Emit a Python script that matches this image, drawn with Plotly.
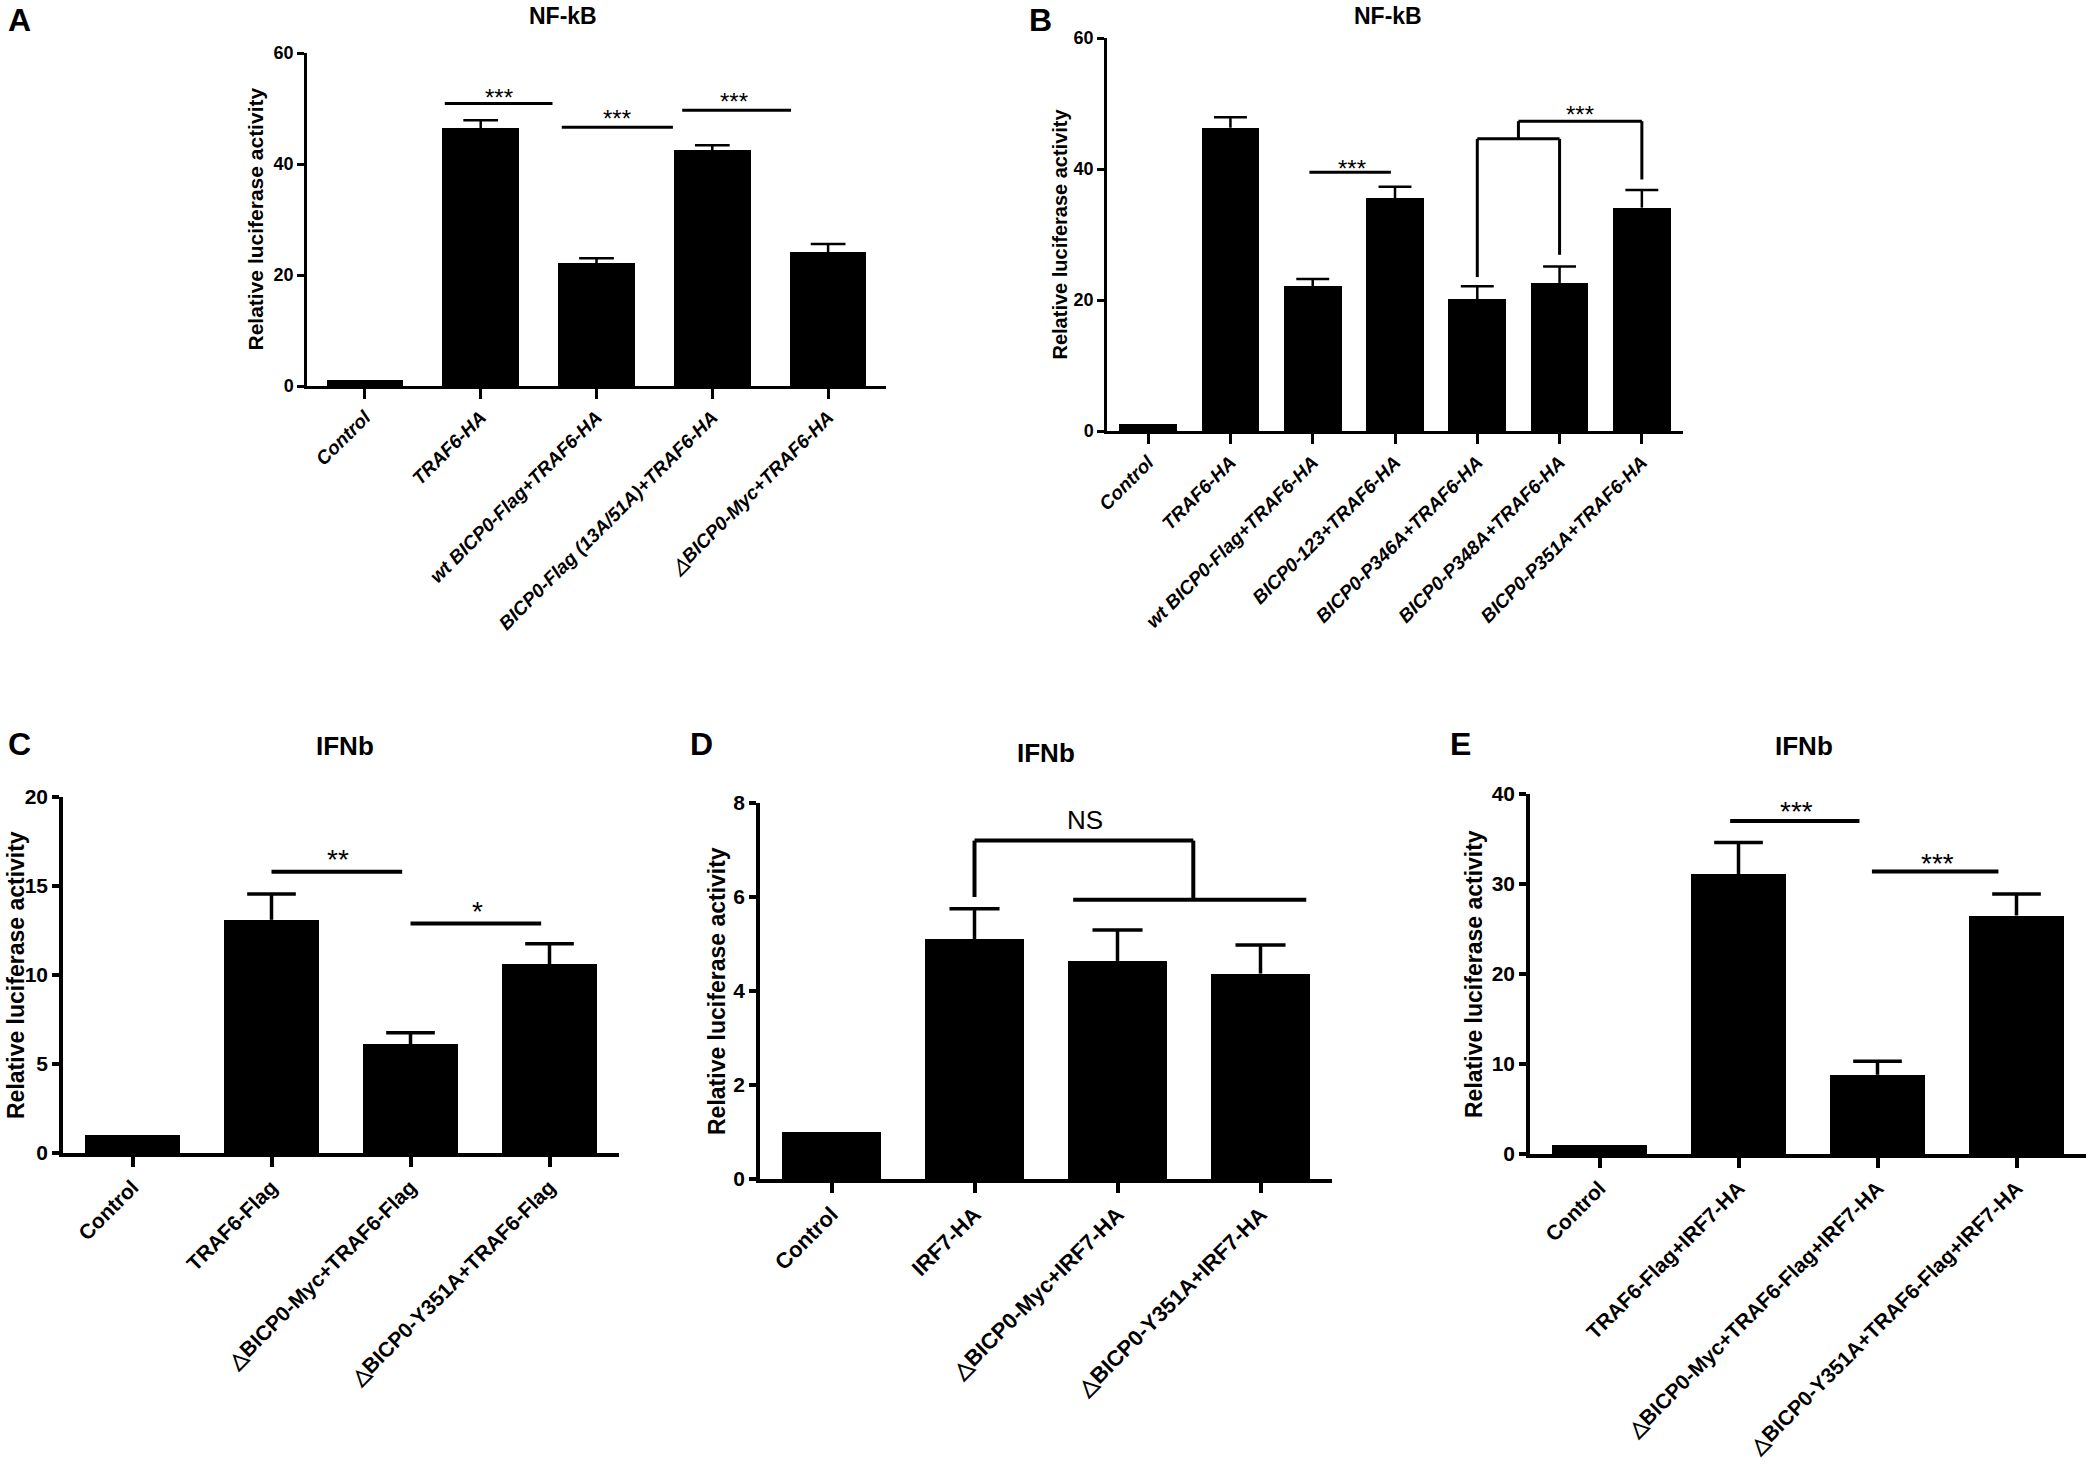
import plotly.graph_objects as go

W, H = 2095, 1468

# ---------------- data ----------------
cats_a = ["Control", "TRAF6-HA", "wt BICP0-Flag+TRAF6-HA",
          "BICP0-Flag (13A/51A)+TRAF6-HA", "△BICP0-Myc+TRAF6-HA"]
vals_a = [1.0, 46.4, 22.1, 42.5, 24.1]
err_a = [0.0, 1.5, 0.9, 0.9, 1.5]

cats_b = ["Control", "TRAF6-HA", "wt BICP0-Flag+TRAF6-HA", "BICP0-123+TRAF6-HA",
          "BICP0-P346A+TRAF6-HA", "BICP0-P348A+TRAF6-HA", "BICP0-P351A+TRAF6-HA"]
vals_b = [1.0, 46.3, 22.1, 35.5, 20.1, 22.6, 34.1]
err_b = [0.0, 1.6, 1.1, 1.8, 2.0, 2.5, 2.7]

cats_c = ["Control", "TRAF6-Flag", "△BICP0-Myc+TRAF6-Flag", "△BICP0-Y351A+TRAF6-Flag"]
vals_c = [1.0, 13.1, 6.1, 10.6]
err_c = [0.0, 1.45, 0.65, 1.15]

cats_d = ["Control", "IRF7-HA", "△BICP0-Myc+IRF7-HA", "△BICP0-Y351A+IRF7-HA"]
vals_d = [1.0, 5.10, 4.64, 4.37]
err_d = [0.0, 0.65, 0.66, 0.61]

cats_e = ["Control", "TRAF6-Flag+IRF7-HA", "△BICP0-Myc+TRAF6-Flag+IRF7-HA",
          "△BICP0-Y351A+TRAF6-Flag+IRF7-HA"]
vals_e = [1.0, 31.1, 8.8, 26.5]
err_e = [0.0, 3.5, 1.5, 2.4]

# significance lines: (x_start, x_end, y, label, label_x, label_y)
sig_a = [(0.69, 1.62, 50.9, "***", 1.16, 53.2),
         (1.70, 2.66, 46.6, "***", 2.18, 49.4),
         (2.74, 3.68, 49.7, "***", 3.19, 52.4)]
sig_b = [(1.96, 2.95, 39.5, "***", 2.48, 41.1)]
sig_c = [(1.0, 1.94, 15.8, "**", 1.48, 16.9),
         (2.0, 2.94, 12.9, "*", 2.48, 14.0)]
sig_e = [(0.94, 1.87, 37.0, "***", 1.42, 38.9),
         (1.96, 2.87, 31.4, "***", 2.43, 33.1)]

NARROW = "Liberation Sans Narrow, Arial Narrow, Liberation Sans, Arial"
ARIAL = "Liberation Sans, Arial, sans-serif"

# panel geometry in pixels: (y-axis x, right end x, zero y, top y)
panels = [
    dict(cats=cats_a, vals=vals_a, err=err_a, x0=307, x1=886, y0=386, y1=53, ymax=60, dtick=20,
         bw=0.66, cap=0.15, font=NARROW, italic=True, xfs=19, ytfs=18, yttl=21, sig=sig_a, lw=3,
         title="NF-kB", tx=563, ty=16, tsz=23, letter="A", lx=19, ly=20, lsz=32,
         ytx=255, sfs=24),
    dict(cats=cats_b, vals=vals_b, err=err_b, x0=1107, x1=1683, y0=431, y1=38, ymax=60, dtick=20,
         bw=0.70, cap=0.2, font=NARROW, italic=True, xfs=19, ytfs=18, yttl=20, sig=sig_b, lw=3,
         title="NF-kB", tx=1388, ty=16, tsz=23, letter="B", lx=1040, ly=20, lsz=32,
         ytx=1059, sfs=24),
    dict(cats=cats_c, vals=vals_c, err=err_c, x0=63, x1=619, y0=1153, y1=797, ymax=20, dtick=5,
         bw=0.68, cap=0.175, font=ARIAL, italic=False, xfs=21, ytfs=21, yttl=23, sig=sig_c, lw=4,
         title="IFNb", tx=345, ty=746, tsz=26, letter="C", lx=19, ly=744, lsz=32,
         ytx=16, sfs=28),
    dict(cats=cats_d, vals=vals_d, err=err_d, x0=760, x1=1332, y0=1179, y1=803, ymax=8, dtick=2,
         bw=0.69, cap=0.175, font=ARIAL, italic=False, xfs=22, ytfs=21, yttl=23, sig=[], lw=4,
         title="IFNb", tx=1046, ty=753, tsz=26, letter="D", lx=701, ly=744, lsz=32,
         ytx=717, sfs=28),
    dict(cats=cats_e, vals=vals_e, err=err_e, x0=1530, x1=2086, y0=1154, y1=794, ymax=40, dtick=10,
         bw=0.69, cap=0.175, font=ARIAL, italic=False, xfs=21, ytfs=21, yttl=23, sig=sig_e, lw=4,
         title="IFNb", tx=1804, ty=746, tsz=26, letter="E", lx=1460, ly=744, lsz=32,
         ytx=1474, sfs=28),
]

fig = go.Figure()
annotations = []
shapes = []

for i, p in enumerate(panels):
    n = i + 1
    xa = "x" if n == 1 else f"x{n}"
    ya = "y" if n == 1 else f"y{n}"
    xk = "xaxis" if n == 1 else f"xaxis{n}"
    yk = "yaxis" if n == 1 else f"yaxis{n}"
    xs = list(range(len(p["cats"])))
    fig.add_trace(go.Bar(
        x=xs, y=p["vals"], width=p["bw"], xaxis=xa, yaxis=ya,
        marker=dict(color="black", line=dict(width=0)),
        showlegend=False, hoverinfo="skip"))
    # one-sided error bars (stem from bar top + cap)
    ex, ey = [], []
    for xi, v, e in zip(xs, p["vals"], p["err"]):
        if e <= 0:
            continue
        ex += [xi, xi, None, xi - p["cap"], xi + p["cap"], None]
        ey += [v, v + e, None, v + e, v + e, None]
    fig.add_trace(go.Scatter(x=ex, y=ey, mode="lines", xaxis=xa, yaxis=ya,
                             line=dict(color="black", width=p["lw"] - 0.5),
                             showlegend=False, hoverinfo="skip", cliponaxis=False))
    style = "italic" if p["italic"] else "normal"
    fig.update_layout(**{
        xk: dict(domain=[p["x0"] / W, p["x1"] / W], anchor=ya, automargin=False,
                 range=[-0.5, len(p["cats"]) - 0.5], tickmode="array",
                 tickvals=xs, ticktext=p["cats"], tickangle=-45,
                 showline=True, linecolor="black", linewidth=p["lw"] - 0.5,
                 ticks="outside", ticklen=10, tickwidth=p["lw"] - 0.5, tickcolor="black",
                 showgrid=False, zeroline=False, fixedrange=True,
                 tickfont=dict(family=p["font"], size=p["xfs"], color="black",
                               weight="bold", style=style)),
        yk: dict(domain=[1 - p["y0"] / H, 1 - p["y1"] / H], anchor=xa, automargin=False,
                 range=[0, p["ymax"]], dtick=p["dtick"], tick0=0,
                 showline=True, linecolor="black", linewidth=p["lw"] - 0.5,
                 ticks="outside", ticklen=7, tickwidth=p["lw"] - 0.5, tickcolor="black",
                 showgrid=False, zeroline=False, fixedrange=True,
                 tickfont=dict(family=p["font"], size=p["ytfs"], color="black",
                               weight="bold")),
    })
    # significance lines
    for (xs0, xs1, yy, lab, lx, ly) in p["sig"]:
        shapes.append(dict(type="line", xref=xa, yref=ya, x0=xs0, x1=xs1, y0=yy, y1=yy,
                           line=dict(color="black", width=p["lw"])))
        annotations.append(dict(xref=xa, yref=ya, x=lx, y=ly, text=lab, showarrow=False,
                                font=dict(family=ARIAL, size=p["sfs"], color="black"),
                                xanchor="center", yanchor="middle", yshift=-p["sfs"] * 0.27))
    # title
    annotations.append(dict(xref="paper", yref="paper", x=p["tx"] / W, y=1 - p["ty"] / H,
                            text=f"<b>{p['title']}</b>", showarrow=False,
                            font=dict(family=p["font"], size=p["tsz"], color="black"),
                            xanchor="center", yanchor="middle"))
    # panel letter
    annotations.append(dict(xref="paper", yref="paper", x=p["lx"] / W, y=1 - p["ly"] / H,
                            text=f"<b>{p['letter']}</b>", showarrow=False,
                            font=dict(family=p["font"], size=p["lsz"], color="black"),
                            xanchor="center", yanchor="middle"))
    # y-axis title
    annotations.append(dict(xref="paper", yref="paper", x=p["ytx"] / W,
                            y=1 - (p["y0"] + p["y1"]) / 2 / H,
                            text="<b>Relative luciferase activity</b>", showarrow=False,
                            textangle=-90,
                            font=dict(family=p["font"], size=p["yttl"], color="black"),
                            xanchor="center", yanchor="middle"))

# bracket in panel B (P346A/P348A vs P351A)
br_b = [(4, 4, 23.5, 44.6), (5, 5, 26.9, 44.6), (4, 5, 44.6, 44.6),
        (4.5, 4.5, 44.6, 47.3), (4.5, 6, 47.3, 47.3), (6, 6, 47.3, 38.4)]
for (a, b, c, d) in br_b:
    shapes.append(dict(type="line", xref="x2", yref="y2", x0=a, x1=b, y0=c, y1=d,
                       line=dict(color="black", width=3)))
annotations.append(dict(xref="x2", yref="y2", x=5.25, y=49.3, text="***", showarrow=False,
                        font=dict(family=ARIAL, size=24, color="black"), yshift=-6))

# NS bracket in panel D
br_d = [(1, 1, 6.0, 7.2), (1, 2.53, 7.2, 7.2), (2.53, 2.53, 7.2, 5.94), (1.69, 3.32, 5.94, 5.94)]
for (a, b, c, d) in br_d:
    shapes.append(dict(type="line", xref="x4", yref="y4", x0=a, x1=b, y0=c, y1=d,
                       line=dict(color="black", width=4)))
annotations.append(dict(xref="x4", yref="y4", x=1.77, y=7.63, text="NS", showarrow=False,
                        font=dict(family=ARIAL, size=26, color="black")))

fig.update_layout(width=W, height=H, autosize=False,
                  margin=dict(l=0, r=0, t=0, b=0, autoexpand=False),
                  paper_bgcolor="white", plot_bgcolor="white",
                  bargap=0, annotations=annotations, shapes=shapes)

fig.write_html("out.html", config={"displayModeBar": False},
               post_script="document.body.style.margin='0';document.body.style.overflow='hidden';")
